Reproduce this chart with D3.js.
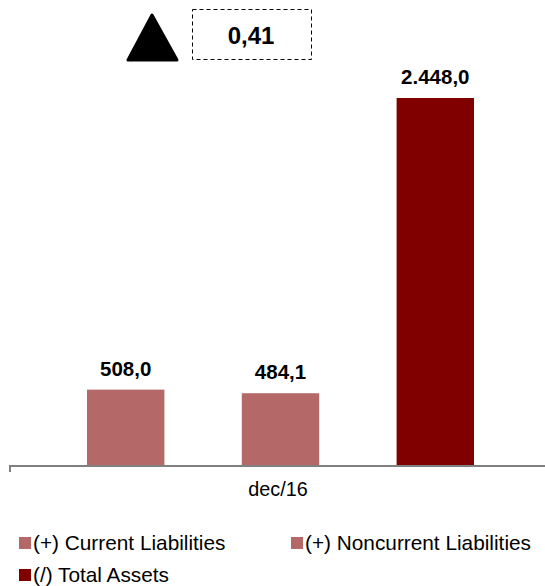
<!DOCTYPE html>
<html>
<head>
<meta charset="utf-8">
<script src="https://cdn.jsdelivr.net/npm/d3@7"></script>
<style>
  body { margin: 0; background: #fff; }
  svg { font-family: "Liberation Sans", Arial, sans-serif; }
</style>
</head>
<body>
<svg width="545" height="586"></svg>
<script>
var categories = ["dec/16"];
var seriesNames = ["(+) Current Liabilities", "(+) Noncurrent Liabilities", "(/) Total Assets"];
var seriesValues = [508.0, 484.1, 2448.0];
var seriesColors = ["#b46868", "#b46868", "#800000"];
var ratioLabel = "0,41";

var svg = d3.select("svg");
var baseY = 466;

// x: one group, three bars inside
var x0 = d3.scaleBand().domain(categories).range([10, 550]);
var x1 = d3.scaleBand().domain(d3.range(seriesValues.length))
  .range([x0("dec/16") + 77, x0("dec/16") + 464]).paddingInner(0.5);

var y = d3.scaleLinear().domain([0, 2448]).range([baseY, 98]);

var fmt = function(v) {
  var s = d3.format(",.1f")(v);
  return s.replace(/,/g, "#").replace(".", ",").replace(/#/g, ".");
};

svg.selectAll("rect.bar")
  .data(seriesValues)
  .enter()
  .append("rect")
  .attr("class", "bar")
  .attr("x", function(d, i) { return x1(i); })
  .attr("y", function(d) { return y(d); })
  .attr("width", x1.bandwidth())
  .attr("height", function(d) { return baseY - y(d); })
  .attr("fill", function(d, i) { return seriesColors[i]; });

svg.selectAll("text.val")
  .data(seriesValues)
  .enter()
  .append("text")
  .attr("class", "val")
  .attr("x", function(d, i) { return x1(i) + x1.bandwidth() / 2; })
  .attr("y", function(d) { return y(d) - 14; })
  .attr("text-anchor", "middle")
  .attr("font-size", 20.5)
  .attr("font-weight", "bold")
  .text(function(d) { return fmt(d); });

// axis
var axis = d3.axisBottom(x0).tickSize(0).tickPadding(18);
var gx = svg.append("g").attr("transform", "translate(0," + baseY + ")").call(axis);
gx.select(".domain").attr("stroke", "#808080").attr("stroke-width", 2)
  .attr("d", "M10,6V0H550");
gx.selectAll(".tick text").attr("font-size", 19.8).attr("fill", "#000")
  .attr("font-family", "Liberation Sans, Arial, sans-serif")
  .attr("dy", "0.6em")
  .attr("dx", -2);

// triangle + dashed box
svg.append("path")
  .attr("d", "M152,15 L177,60 L128,60 Z")
  .attr("fill", "#000").attr("stroke", "#000")
  .attr("stroke-width", 3).attr("stroke-linejoin", "round");
svg.append("rect")
  .attr("x", 192.5).attr("y", 9.5).attr("width", 119).attr("height", 50)
  .attr("fill", "none").attr("stroke", "#000").attr("stroke-width", 1)
  .attr("stroke-dasharray", "4,3");
svg.append("text")
  .attr("x", 251).attr("y", 44).attr("text-anchor", "middle")
  .attr("font-size", 24).attr("font-weight", "bold").text(ratioLabel);

// legend
var legendPos = [[19, 543], [291, 543], [19, 575]];
var lg = svg.selectAll("g.leg")
  .data(seriesNames)
  .enter()
  .append("g")
  .attr("class", "leg")
  .attr("transform", function(d, i) { return "translate(" + legendPos[i][0] + "," + legendPos[i][1] + ")"; });
lg.append("rect").attr("x", 0).attr("y", -6).attr("width", 12).attr("height", 12)
  .attr("fill", function(d, i) { return seriesColors[i]; });
lg.append("text").attr("x", 14).attr("y", 7).attr("font-size", 20.8)
  .text(function(d) { return d; });
</script>
</body>
</html>
